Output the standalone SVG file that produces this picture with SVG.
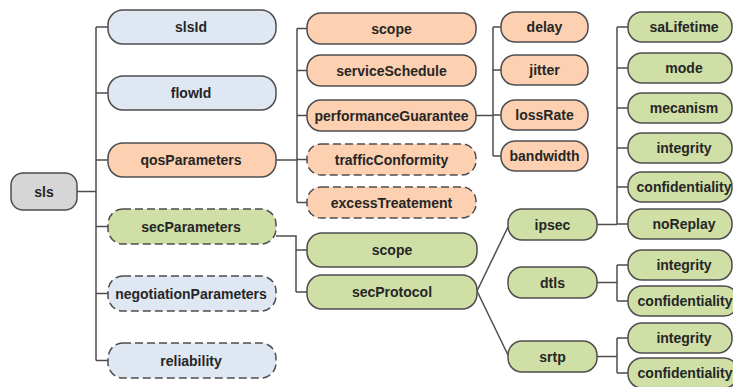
<svg xmlns="http://www.w3.org/2000/svg" width="733" height="387" viewBox="0 0 733 387">
<style>
.n{stroke:#4d4d4d;stroke-width:1.5}
.g{fill:#d6d6d6}
.b{fill:#dfe7f3}
.o{fill:#fcd0b0}
.v{fill:#cfdfa6}
.d{stroke-dasharray:8 4}
text{font-family:"Liberation Sans",Arial,sans-serif;font-weight:bold;font-size:14px;fill:#262626;text-anchor:middle;dominant-baseline:central}
.c{fill:none;stroke:#4d4d4d;stroke-width:1.5}
</style>
<rect width="733" height="387" fill="#fff"/>
<g id="connectors" class="c">
<path d="M77 191.5H96M96 27V360.5M96 27H108M96 93H108M96 160H108M96 226.5H108M96 293.5H108M96 360.5H108"/>
<path d="M276 160H297M297 28.5V202.5M297 28.5H307M297 70.5H307M297 115.5H307M297 159.5H307M297 202.5H307"/>
<path d="M276 236H296V292M296 250H307M296 292H307"/>
<path d="M476 115.5H493M493 27V156M493 27H501M493 70H501M493 115H501M493 156H501"/>
<path d="M477 291L508 227M477 291L508 355"/>
<path d="M597 224.5H617M617 27V224M617 27H628M617 68H628M617 108H628M617 148H628M617 187H628M617 224H628"/>
<path d="M597 282.5H617M617 265V301M617 265H628M617 301H628"/>
<path d="M597 356.5H617M617 338V373M617 338H628M617 373H628"/>
</g>
<g id="sls"><rect class="n g" x="11" y="173" width="66" height="37" rx="12"/><text x="44" y="191.5">sls</text></g>
<g id="slsId"><rect class="n b" x="108" y="10" width="168" height="34" rx="15"/><text x="191" y="27">slsId</text></g>
<g id="flowId"><rect class="n b" x="108" y="76" width="168" height="34" rx="15"/><text x="191" y="93">flowId</text></g>
<g id="qosParameters"><rect class="n o" x="108" y="143" width="168" height="34" rx="15"/><text x="191" y="160">qosParameters</text></g>
<g id="secParameters"><rect class="n v d" x="108" y="209" width="168" height="35" rx="15"/><text x="191" y="226.5">secParameters</text></g>
<g id="negotiationParameters"><rect class="n b d" x="108" y="276" width="168" height="35" rx="15"/><text x="191" y="293.5">negotiationParameters</text></g>
<g id="reliability"><rect class="n b d" x="108" y="343" width="168" height="35" rx="15"/><text x="191" y="360.5">reliability</text></g>
<g id="qosScope"><rect class="n o" x="307" y="13" width="169" height="31" rx="14"/><text x="391.5" y="28.5">scope</text></g>
<g id="serviceSchedule"><rect class="n o" x="307" y="55" width="169" height="31" rx="14"/><text x="391.5" y="70.5">serviceSchedule</text></g>
<g id="performanceGuarantee"><rect class="n o" x="307" y="100" width="169" height="31" rx="14"/><text x="391.5" y="115.5">performanceGuarantee</text></g>
<g id="trafficConformity"><rect class="n o d" x="307" y="144" width="169" height="31" rx="14"/><text x="391.5" y="159.5">trafficConformity</text></g>
<g id="excessTreatement"><rect class="n o d" x="307" y="187" width="169" height="31" rx="14"/><text x="391.5" y="202.5">excessTreatement</text></g>
<g id="secScope"><rect class="n v" x="307" y="233" width="170" height="34" rx="15"/><text x="392" y="250">scope</text></g>
<g id="secProtocol"><rect class="n v" x="307" y="275" width="170" height="34" rx="15"/><text x="392" y="292">secProtocol</text></g>
<g id="delay"><rect class="n o" x="501" y="12" width="87" height="30" rx="14"/><text x="544.5" y="27">delay</text></g>
<g id="jitter"><rect class="n o" x="501" y="55" width="87" height="30" rx="14"/><text x="544.5" y="70">jitter</text></g>
<g id="lossRate"><rect class="n o" x="501" y="100" width="87" height="30" rx="14"/><text x="544.5" y="115">lossRate</text></g>
<g id="bandwidth"><rect class="n o" x="501" y="141" width="87" height="30" rx="14"/><text x="544.5" y="156">bandwidth</text></g>
<g id="ipsec"><rect class="n v" x="508" y="209" width="89" height="31" rx="14"/><text x="552.5" y="224.5">ipsec</text></g>
<g id="dtls"><rect class="n v" x="508" y="267" width="89" height="31" rx="14"/><text x="552.5" y="282.5">dtls</text></g>
<g id="srtp"><rect class="n v" x="508" y="341" width="89" height="31" rx="14"/><text x="552.5" y="356.5">srtp</text></g>
<g id="saLifetime"><rect class="n v" x="628" y="12" width="104" height="30" rx="14"/><text x="684" y="27">saLifetime</text></g>
<g id="mode"><rect class="n v" x="628" y="53" width="104" height="30" rx="14"/><text x="684" y="68">mode</text></g>
<g id="mecanism"><rect class="n v" x="628" y="93" width="104" height="30" rx="14"/><text x="684" y="108">mecanism</text></g>
<g id="ipsecIntegrity"><rect class="n v" x="628" y="133" width="104" height="30" rx="14"/><text x="684" y="148">integrity</text></g>
<g id="ipsecConfidentiality"><rect class="n v" x="628" y="172" width="104" height="30" rx="14"/><text x="684" y="187">confidentiality</text></g>
<g id="noReplay"><rect class="n v" x="628" y="209" width="104" height="30" rx="14"/><text x="684" y="224">noReplay</text></g>
<g id="dtlsIntegrity"><rect class="n v" x="628" y="250" width="104" height="30" rx="14"/><text x="684" y="265">integrity</text></g>
<g id="dtlsConfidentiality"><rect class="n v" x="628" y="286" width="110" height="30" rx="14"/><text x="685" y="301">confidentiality</text></g>
<g id="srtpIntegrity"><rect class="n v" x="628" y="323" width="104" height="30" rx="14"/><text x="684" y="338">integrity</text></g>
<g id="srtpConfidentiality"><rect class="n v" x="628" y="358" width="110" height="30" rx="14"/><text x="685" y="373">confidentiality</text></g>
</svg>
